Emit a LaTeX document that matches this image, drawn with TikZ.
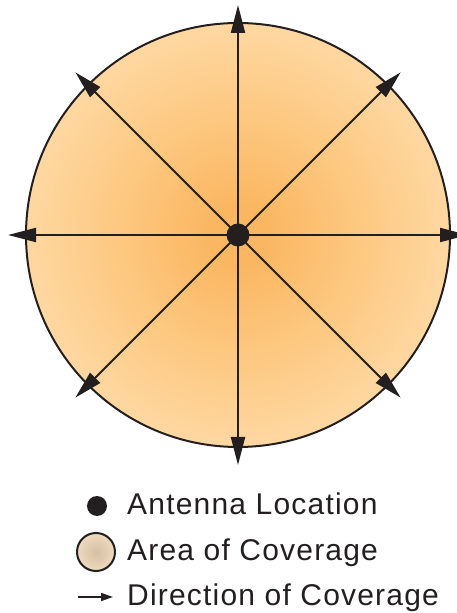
\documentclass[tikz,border=0pt]{standalone}
\usepackage{fontspec}
\setmainfont{Liberation Sans}
\newfontfamily\legfont[LetterSpace=4]{Liberation Sans}
\usetikzlibrary{arrows.meta,calc,positioning}
\definecolor{covin}{RGB}{250,182,96}
\definecolor{covmid}{RGB}{253,200,128}
\definecolor{covout}{RGB}{255,230,192}
\definecolor{legin}{RGB}{214,190,160}
\definecolor{legout}{RGB}{248,230,206}
\definecolor{ink}{RGB}{35,31,32}
\pgfdeclareradialshading{covshade}{\pgfpoint{0bp}{0bp}}{color(0bp)=(covin); color(3bp)=(covin); color(14bp)=(covmid); color(35bp)=(covout); color(50bp)=(covout)}
\pgfdeclareradialshading{legshade}{\pgfpoint{0bp}{0bp}}{color(0bp)=(legin); color(35bp)=(legout); color(50bp)=(legout)}

\begin{document}
\begin{tikzpicture}[
    x=1pt, y=1pt,
    area/.style={circle, draw=ink, line width=2pt, shading=covshade, inner sep=0pt, minimum size=424pt},
    antenna/.style={circle, fill=ink, inner sep=0pt, minimum size=23pt},
    legdot/.style={circle, fill=ink, inner sep=0pt, minimum size=20pt},
    legarea/.style={circle, draw=ink, line width=2pt, shading=legshade, inner sep=0pt, minimum size=38pt},
    dirarrow/.style={-{Triangle[length=28pt,width=14pt]}, draw=ink, line width=2pt},
    legarrow/.style={-{Triangle[length=12pt,width=8pt]}, draw=ink, line width=1.6pt},
    legtext/.style={anchor=base west, inner sep=0pt, text=ink, font=\legfont\fontsize{30}{36}\selectfont}
]
    \useasboundingbox (0,0) rectangle (457,613);

    \coordinate (c) at (238,378);
    \node[area] (cover) at (c) {};
    \foreach \a in {0,45,...,315} {
        \coordinate (tip\a) at ($(c)+(\a:230)$);
        \draw[dirarrow] (c) -- (tip\a);
    }
    \node[antenna] (ant) at (c) {};

    \node[legdot] (ldot) at (97,107) {};
    \node[legarea] (larea) at (96,61) {};
    \coordinate (la1) at (78,16);
    \coordinate (la2) at (113,16);
    \draw[legarrow] (la1) -- (la2);

    \node[legtext] (t1) at (127,98) {Antenna Location};
    \node[legtext] (t2) at (127,52) {Area of Coverage};
    \node[legtext] (t3) at (127,7) {Direction of Coverage};
\end{tikzpicture}
\end{document}
